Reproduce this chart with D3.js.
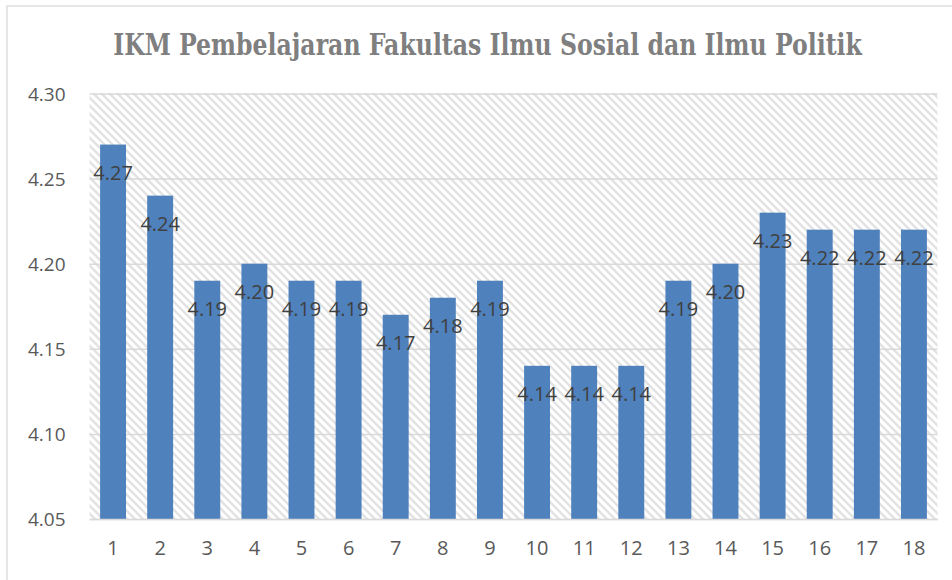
<!DOCTYPE html>
<html><head><meta charset="utf-8">
<script src="https://cdn.jsdelivr.net/npm/d3@7"></script>
<style>body{margin:0;background:#fff;}svg{display:block;}</style>
</head><body>
<script>
const title = "IKM Pembelajaran Fakultas Ilmu Sosial dan Ilmu Politik";
const categories = ["1","2","3","4","5","6","7","8","9","10","11","12","13","14","15","16","17","18"];
const values = [4.27,4.24,4.19,4.20,4.19,4.19,4.17,4.18,4.19,4.14,4.14,4.14,4.19,4.20,4.23,4.22,4.22,4.22];
const yTicks = [4.05,4.10,4.15,4.20,4.25,4.30];

const W = 952, H = 580;
const m = {left: 89.5, right: 937.5, top: 93.5, bottom: 519};
const svg = d3.select("body").append("svg").attr("width", W).attr("height", H);

const defs = svg.append("defs");
const pat = defs.append("pattern").attr("id","hatch").attr("patternUnits","userSpaceOnUse")
  .attr("width",8).attr("height",8);
pat.append("rect").attr("width",8).attr("height",8).attr("fill","#fff");
pat.append("path").attr("d","M-2,-2 L10,10 M-10,-2 L2,10 M6,-2 L18,10")
  .attr("stroke","#e2e2e2").attr("stroke-width",2.3);

// outer border
svg.append("rect").attr("x",7).attr("y",6).attr("width",W+10).attr("height",H+10)
  .attr("fill","none").attr("stroke","#d9d9d9").attr("stroke-width",1.3);

const x = d3.scaleBand().domain(categories).range([m.left, m.right]).paddingInner(0.45).paddingOuter(0.225);
const y = d3.scaleLinear().domain([4.05, 4.30]).range([m.bottom, m.top]);

svg.append("rect").attr("x",m.left).attr("y",m.top).attr("width",m.right-m.left).attr("height",m.bottom-m.top)
  .attr("fill","url(#hatch)");

// gridlines
const yAxis = d3.axisLeft(y).tickValues(yTicks).tickSize(-(m.right-m.left)).tickFormat(d3.format(".2f")).tickPadding(24);
const gy = svg.append("g").attr("transform",`translate(${m.left},0)`).call(yAxis);
gy.select(".domain").remove();
gy.selectAll(".tick line").attr("stroke","#d9d9d9").attr("stroke-width",1.5);
gy.selectAll(".tick text").attr("fill","#595959").style("font-family","'Open Sans', 'Liberation Sans', sans-serif")
  .style("font-size","19px").attr("dy","0.35em");

// bars
svg.append("g").selectAll("rect").data(values).join("rect")
  .attr("x",(d,i)=>x(categories[i])).attr("width",x.bandwidth())
  .attr("y",d=>y(d)).attr("height",d=>y(4.05)-y(d)).attr("fill","#4f81bd");

// x axis
const xAxis = d3.axisBottom(x).tickSize(0).tickPadding(22);
const gx = svg.append("g").attr("transform",`translate(0,${m.bottom})`).call(xAxis);
gx.select(".domain").attr("stroke","#d9d9d9").attr("stroke-width",1.5);
gx.selectAll(".tick text").attr("fill","#595959").style("font-family","'Open Sans', 'Liberation Sans', sans-serif")
  .style("font-size","20px");

// data labels
svg.append("g").selectAll("text").data(values).join("text")
  .attr("x",(d,i)=>x(categories[i])+x.bandwidth()/2).attr("y",d=>y(d)+35)
  .attr("text-anchor","middle").attr("fill","#404040")
  .style("font-family","'Open Sans', 'Liberation Sans', sans-serif").style("font-size","20px")
  .text(d=>d3.format(".2f")(d));

// title (scaled horizontally to the condensed width of the reference)
const tg = svg.append("g");
const tt = tg.append("text").attr("x",0).attr("y",0).attr("text-anchor","middle")
  .attr("fill","#7f7f7f").style("font-family","'DejaVu Serif Condensed','Liberation Serif',serif")
  .style("font-weight","bold").style("font-size","30px").text(title);
const tw = tt.node().getComputedTextLength();
const sx = Math.min(1, 749 / tw);
tg.attr("transform",`translate(487.5,55) scale(${sx},1)`);
</script>
</body></html>
